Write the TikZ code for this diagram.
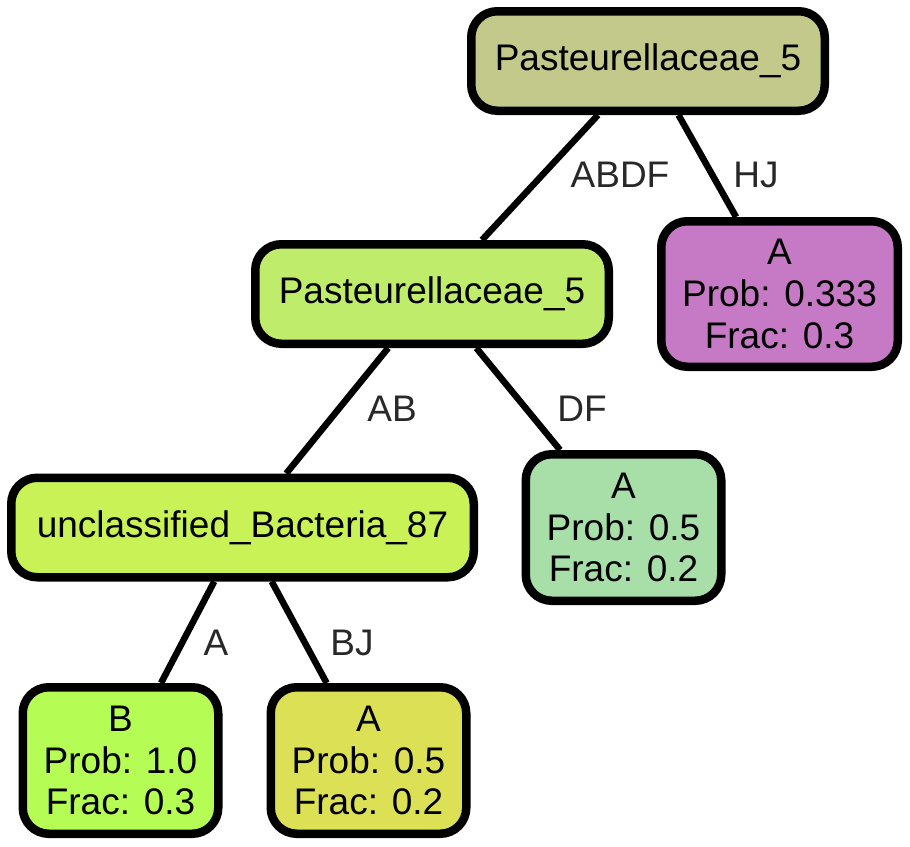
\documentclass[tikz,border=0pt]{standalone}
\usepackage{fontspec}
\setmainfont{Liberation Sans}

% fill colours of the tree nodes
\definecolor{rootfill}{RGB}{194,201,138}
\definecolor{midfill}{RGB}{192,236,108}
\definecolor{unclfill}{RGB}{200,242,85}
\definecolor{purfill}{RGB}{198,121,196}
\definecolor{dffill}{RGB}{168,223,168}
\definecolor{bfill}{RGB}{181,252,85}
\definecolor{yelfill}{RGB}{220,224,85}
\definecolor{labelgray}{RGB}{40,40,40}

\begin{document}
\begin{tikzpicture}[x=1pt,y=-1pt,
  box/.style={draw=black, line width=8.5pt, rounded corners=26pt, align=center,
    inner sep=0pt, font=\fontsize{37}{41.6}\selectfont},
  inner/.style={box, minimum height=99.5pt},
  leaf/.style={box, minimum width=195.5pt, minimum height=146.5pt},
  edge/.style={line width=6.5pt},
  elabel/.style={anchor=base, text=labelgray, font=\fontsize{37}{41.6}\selectfont}]

\useasboundingbox (0,0) rectangle (910,846);

% Inner nodes of the tree
\node[inner, fill=rootfill, minimum width=353.5pt] (root) at (648,61) {Pasteurellaceae\_5};
\node[inner, fill=midfill, minimum width=353.5pt] (mid) at (432,294) {Pasteurellaceae\_5};
\node[inner, fill=unclfill, minimum width=462.5pt] (uncl) at (242.5,527.5) {unclassified\_Bacteria\_87};

% Leaves: name/x/y/colour/class/prob/frac
\foreach \nm/\x/\y/\fc/\cls/\pr/\fr in {
    df/623.5/527.5/dffill/A/0.5/0.2,
    bleaf/120.5/760.5/bfill/B/1.0/0.3,
    aleaf/368.5/760.5/yelfill/A/0.5/0.2} {
  \node[leaf, fill=\fc] (\nm) at (\x,\y) {\cls\\Prob: \pr\\Frac: \fr};
}
\node[leaf, fill=purfill, minimum width=236.5pt, minimum height=145.5pt] (pur) at (779.5,294) {A\\Prob: 0.333\\Frac: 0.3};

% Edges of the tree
\foreach \a/\b in {root/mid, root/pur, mid/uncl, mid/df, uncl/bleaf, uncl/aleaf} {
  \draw[edge] (\a) -- (\b);
}

% Edge labels
\node[elabel] (lABDF) at (620,187) {ABDF};
\node[elabel] (lHJ) at (756,187) {HJ};
\node[elabel] (lAB) at (392,421) {AB};
\node[elabel] (lDF) at (582,421) {DF};
\node[elabel] (lA) at (216,655) {A};
\node[elabel] (lBJ) at (352,655) {BJ};

\end{tikzpicture}
\end{document}
